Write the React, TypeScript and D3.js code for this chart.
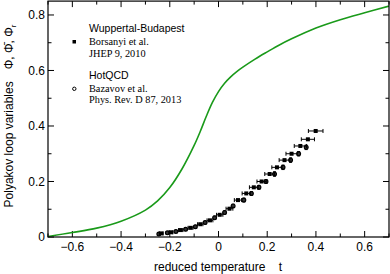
import * as d3 from "d3";

const W = 390;
const H = 274;

// model curve (green): reduced temperature vs Polyakov loop
const curveT = [-0.7, -0.6, -0.5, -0.4, -0.3, -0.25, -0.2, -0.15, -0.1, -0.075, -0.05, -0.025, 0, 0.025, 0.05, 0.075, 0.1, 0.15, 0.2, 0.25, 0.3, 0.4, 0.5, 0.6, 0.7];
const curvePhi = [0.002, 0.016, 0.032, 0.057, 0.097, 0.13, 0.178, 0.245, 0.33, 0.38, 0.435, 0.485, 0.524, 0.554, 0.577, 0.596, 0.612, 0.641, 0.667, 0.692, 0.714, 0.753, 0.783, 0.808, 0.832];

// Wuppertal-Budapest (squares)
const wbT = [-0.235, -0.195, -0.155, -0.115, -0.075, -0.035, 0.005, 0.045, 0.08, 0.114, 0.145, 0.177, 0.21, 0.24, 0.271, 0.3, 0.336, 0.367, 0.399];
const wbPhi = [0.013, 0.017, 0.025, 0.033, 0.046, 0.06, 0.08, 0.102, 0.133, 0.157, 0.179, 0.2, 0.227, 0.251, 0.277, 0.3, 0.328, 0.352, 0.382];
const wbErr = [0.008, 0.008, 0.009, 0.01, 0.011, 0.012, 0.013, 0.014, 0.015, 0.017, 0.018, 0.019, 0.02, 0.021, 0.022, 0.023, 0.025, 0.027, 0.03];

// HotQCD (circles)
const hqT = [-0.245, -0.21, -0.175, -0.135, -0.095, -0.055, -0.016, 0.025, 0.06, 0.104, 0.135, 0.166, 0.195, 0.23, 0.265, 0.296, 0.329, 0.36];
const hqPhi = [0.011, 0.015, 0.02, 0.028, 0.037, 0.052, 0.069, 0.088, 0.112, 0.133, 0.157, 0.179, 0.2, 0.227, 0.251, 0.277, 0.3, 0.323];
const hqErr = [0.004, 0.004, 0.004, 0.005, 0.005, 0.005, 0.006, 0.006, 0.006, 0.007, 0.007, 0.007, 0.007, 0.008, 0.008, 0.008, 0.008, 0.008];

const xMajor = [-0.6, -0.4, -0.2, 0, 0.2, 0.4, 0.6];
const xMinor = [-0.7, -0.5, -0.3, -0.1, 0.1, 0.3, 0.5, 0.7];
const yMajor = [0, 0.2, 0.4, 0.6, 0.8];
const yMinor = [0.1, 0.3, 0.5, 0.7];

const sans = "Liberation Sans, Arial, sans-serif";
const serif = "Liberation Serif, Times New Roman, serif";

export default function App() {
  const x = d3.scaleLinear().domain([-0.7, 0.7]).range([48, 389]);
  const y = d3.scaleLinear().domain([0, 0.85]).range([237, 1.1]);
  const [x0, x1] = x.range();
  const [y0, y1] = y.range();

  const line = d3
    .line<number>()
    .x((_, i) => x(curveT[i]))
    .y((d) => y(d))
    .curve(d3.curveCatmullRom.alpha(0.5));

  const fmt = (v: number) => (v === 0 ? "0" : d3.format(".1f")(v));

  return (
    <svg width={W} height={H} style={{ position: "absolute", left: 0, top: 0 }}>
      <rect x={0} y={0} width={W} height={H} fill="white" />
      <defs>
        <clipPath id="plot">
          <rect x={x0} y={y1} width={x1 - x0} height={y0 - y1} />
        </clipPath>
      </defs>

      {/* ticks, mirrored on all four sides */}
      <g stroke="#000" strokeWidth={1}>
        {xMajor.map((t) => (
          <g key={"xM" + t}>
            <line x1={x(t)} x2={x(t)} y1={y0} y2={y0 - 6} />
            <line x1={x(t)} x2={x(t)} y1={y1} y2={y1 + 6} />
          </g>
        ))}
        {xMinor.map((t) => (
          <g key={"xm" + t}>
            <line x1={x(t)} x2={x(t)} y1={y0} y2={y0 - 3.5} />
            <line x1={x(t)} x2={x(t)} y1={y1} y2={y1 + 3.5} />
          </g>
        ))}
        {yMajor.map((v) => (
          <g key={"yM" + v}>
            <line x1={x0} x2={x0 + 6} y1={y(v)} y2={y(v)} />
            <line x1={x1} x2={x1 - 6} y1={y(v)} y2={y(v)} />
          </g>
        ))}
        {yMinor.map((v) => (
          <g key={"ym" + v}>
            <line x1={x0} x2={x0 + 3.5} y1={y(v)} y2={y(v)} />
            <line x1={x1} x2={x1 - 3.5} y1={y(v)} y2={y(v)} />
          </g>
        ))}
      </g>

      <g fontFamily={sans} fontSize={12} fill="#000">
        {xMajor.map((t) => (
          <text key={"xl" + t} x={x(t)} y={250.5} textAnchor="middle">
            {fmt(t)}
          </text>
        ))}
        {yMajor.map((v) => (
          <text key={"yl" + v} x={45} y={y(v)} dy="0.36em" textAnchor="end">
            {fmt(v)}
          </text>
        ))}
        <text x={154} y={270.5}>reduced temperature</text>
        <text x={280.5} y={270.5} textAnchor="middle">t</text>
        <text transform="translate(13,116) rotate(-90)" textAnchor="middle">
          {"Polyakov loop variables\u2002\u2002Φ, Φ\u0304, Φ"}
          <tspan fontSize={8} dy={3}>r</tspan>
        </text>
      </g>

      <g clipPath="url(#plot)">
        <path d={line(curvePhi) ?? ""} fill="none" stroke="#1a9a1a" strokeWidth={1.6} />

        {/* HotQCD */}
        <g stroke="#000" strokeWidth={1}>
          {hqT.map((t, i) => (
            <g key={"hq" + i}>
              <line x1={x(t)} x2={x(t)} y1={y(hqPhi[i] - hqErr[i])} y2={y(hqPhi[i] + hqErr[i])} />
              <line x1={x(t) - 1.5} x2={x(t) + 1.5} y1={y(hqPhi[i] - hqErr[i])} y2={y(hqPhi[i] - hqErr[i])} />
              <line x1={x(t) - 1.5} x2={x(t) + 1.5} y1={y(hqPhi[i] + hqErr[i])} y2={y(hqPhi[i] + hqErr[i])} />
              <circle cx={x(t)} cy={y(hqPhi[i])} r={1.9} fill="#333" strokeWidth={1.2} />
            </g>
          ))}
        </g>

        {/* Wuppertal-Budapest */}
        <g stroke="#000" strokeWidth={1}>
          {wbT.map((t, i) => {
            const cy = y(wbPhi[i]);
            const a = x(t - wbErr[i]);
            const b = x(t + wbErr[i]);
            return (
              <g key={"wb" + i}>
                <line x1={a} x2={b} y1={cy} y2={cy} />
                <line x1={a} x2={a} y1={cy - 2} y2={cy + 2} />
                <line x1={b} x2={b} y1={cy - 2} y2={cy + 2} />
                <rect x={x(t) - 2} y={cy - 2} width={4} height={4} fill="#000" stroke="none" />
              </g>
            );
          })}
        </g>
      </g>

      {/* legend */}
      <g fill="#000">
        <text x={89} y={32} fontFamily={sans} fontSize={10.5}>Wuppertal-Budapest</text>
        <rect x={72.5} y={40} width={3.5} height={3.5} />
        <text x={89} y={45} fontFamily={serif} fontSize={10.3}>Borsanyi et al.</text>
        <text x={89} y={56.5} fontFamily={serif} fontSize={10.3}>JHEP 9, 2010</text>
        <text x={89} y={79} fontFamily={sans} fontSize={10.5}>HotQCD</text>
        <circle cx={74.3} cy={88.8} r={1.7} fill="white" stroke="#000" strokeWidth={1} />
        <text x={89} y={92} fontFamily={serif} fontSize={10.3}>Bazavov et al.</text>
        <text x={89} y={103} fontFamily={serif} fontSize={10.3}>Phys. Rev. D 87, 2013</text>
      </g>

      <rect x={x0} y={y1} width={x1 - x0} height={y0 - y1} fill="none" stroke="#000" strokeWidth={1.2} />
    </svg>
  );
}
